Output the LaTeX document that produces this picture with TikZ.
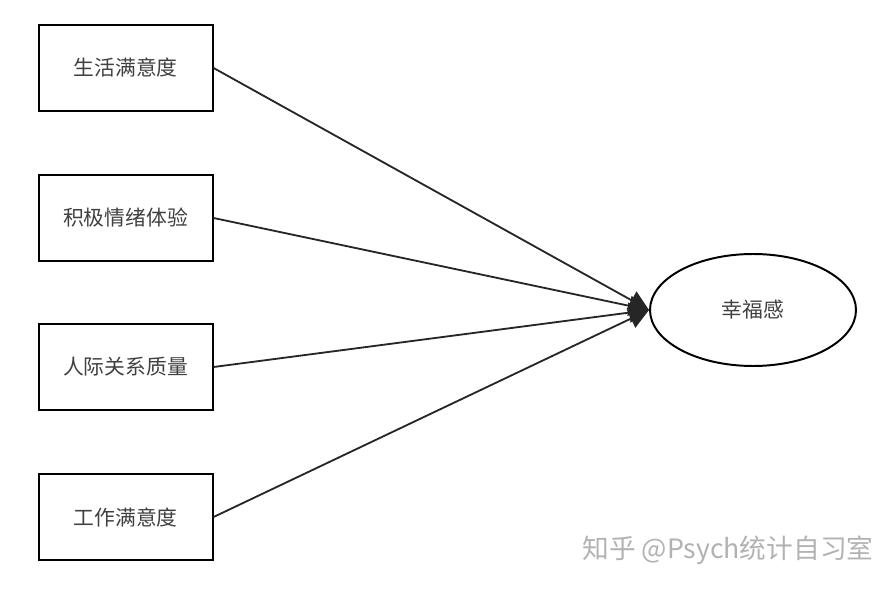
\documentclass[tikz,border=0pt]{standalone}
\usepackage{fontspec}
\setmainfont{Noto Sans CJK SC}
\usetikzlibrary{arrows.meta,shapes.geometric}

\begin{document}
\begin{tikzpicture}[
  font=\fontsize{14.8}{17}\selectfont, >={Triangle[length=5mm,width=5mm]},
  factor/.style={draw, line width=1.4pt, minimum width=43.5mm, minimum height=21.5mm, text=black!75},
  outcome/.style={draw, ellipse, line width=1.4pt, minimum width=51.5mm, minimum height=28mm, text=black!75},
  path/.style={->, line width=1.3pt, black!85},
]
\useasboundingbox (0,0) rectangle (22.4,14.8);
% predictors
\node[factor] (life) at (3.14,13.1) {生活满意度};
\node[factor] (emo) at (3.14,9.35) {积极情绪体验};
\node[factor] (rel) at (3.14,5.625) {人际关系质量};
\node[factor] (work) at (3.14,1.875) {工作满意度};
% outcome
\node[outcome] (happy) at (18.825,7.05) {幸福感};
% paths
\draw[path] (life.east) -- (happy.west);
\draw[path] (emo.east) -- (happy.west);
\draw[path] (rel.east) -- (happy.west);
\draw[path] (work.east) -- (happy.west);
% watermark
\node[text=black!30, font=\fontsize{19}{22}\selectfont] (mark) at (18.2,1.05) {知乎 @Psych统计自习室};
\end{tikzpicture}
\end{document}
